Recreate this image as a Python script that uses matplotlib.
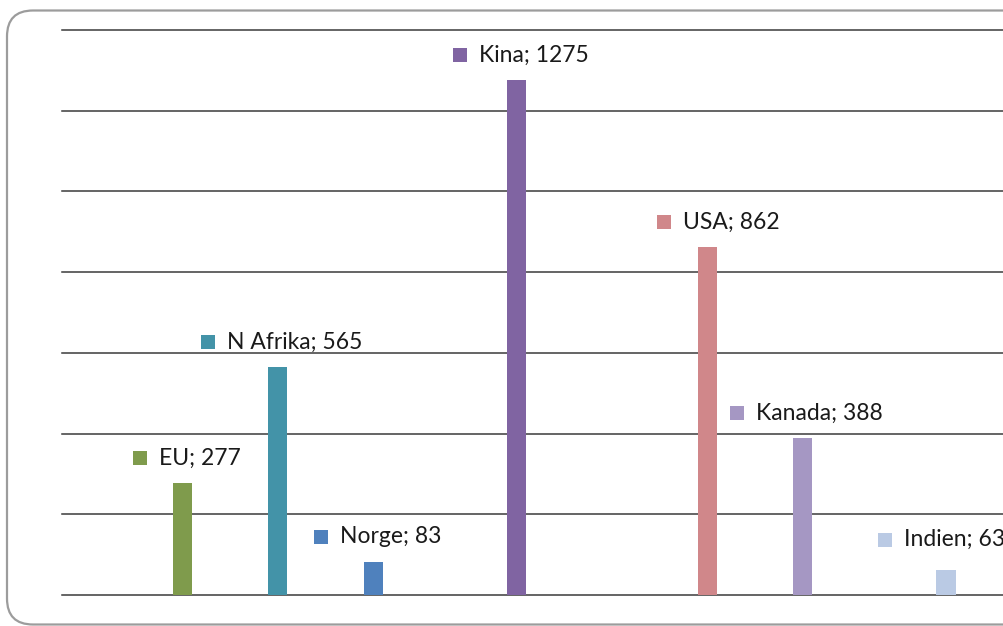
import matplotlib
matplotlib.use("Agg")
import matplotlib.pyplot as plt
from matplotlib.patches import FancyBboxPatch, Rectangle
from matplotlib.offsetbox import DrawingArea, TextArea, HPacker, AnnotationBbox

# Data
regions = ["EU", "N Afrika", "Norge", "Kina", "USA", "Kanada", "Indien"]
values = [277, 565, 83, 1275, 862, 388, 63]
colors = ["#7F9B4C", "#4393A8", "#4F81BD", "#8064A2", "#D0878A", "#A597C3", "#BACAE4"]

# Layout: slot position of each bar and label nudges (px)
slots = [0, 2, 4, 7, 11, 13, 16]
label_dx_px = [4, 4, 4, 4, 11, 4, -4]
label_dy_px = [25, 25, 25, 25, 25, 25, 30]

W, H, DPI = 1004, 626, 100
fig = plt.figure(figsize=(W / DPI, H / DPI), dpi=DPI)
fig.patch.set_facecolor("white")

# Rounded chart-area frame (coordinates in inches from the lower-left corner)
frame = FancyBboxPatch((7 / DPI, 1.5 / DPI), (1040 - 7) / DPI, (615.5 - 1.5) / DPI,
                       boxstyle="round,pad=0,rounding_size=0.26",
                       transform=fig.dpi_scale_trans, facecolor="white",
                       edgecolor="#9C9C9C", linewidth=1.6, zorder=-1)
fig.patches.append(frame)

left_px, right_px = 62, 1004
bottom_px, top_px = 595, 30
ax = fig.add_axes([left_px / W, (H - bottom_px) / H,
                   (right_px - left_px) / W, (bottom_px - top_px) / H])
ax.set_facecolor("none")
ax.set_zorder(2)

slot_px = 47.72
x0_px = 182.5
ax.set_xlim((left_px - x0_px) / slot_px, (right_px - x0_px) / slot_px)
ax.set_ylim(0, 1400)

for y in range(0, 1401, 200):
    ax.axhline(y, color="#3A3A3A", linewidth=1.1, zorder=1, clip_on=False)

ax.bar(slots, values, width=0.4, color=colors, zorder=2)

for s in ax.spines.values():
    s.set_visible(False)
ax.set_xticks([])
ax.set_yticks([])

px2pt = 72 / DPI
sq = 14 * px2pt
for name, val, x, c, dx, dy in zip(regions, values, slots, colors,
                                   label_dx_px, label_dy_px):
    da = DrawingArea(sq, sq, 0, 0)
    da.add_artist(Rectangle((0, 0), sq, sq, facecolor=c, edgecolor="none"))
    ta = TextArea(f"{name}; {val}",
                  textprops=dict(fontsize=16.5, color="#1A1A1A", family="Lato"))
    box = HPacker(children=[da, ta], align="center", pad=0, sep=12 * px2pt)
    ab = AnnotationBbox(box, (x, val), xybox=(dx * px2pt, dy * px2pt),
                        xycoords="data", boxcoords="offset points",
                        box_alignment=(0.5, 0.5), frameon=False, pad=0,
                        annotation_clip=False)
    ax.add_artist(ab)

fig.savefig("out.png", dpi=DPI, facecolor="white")
